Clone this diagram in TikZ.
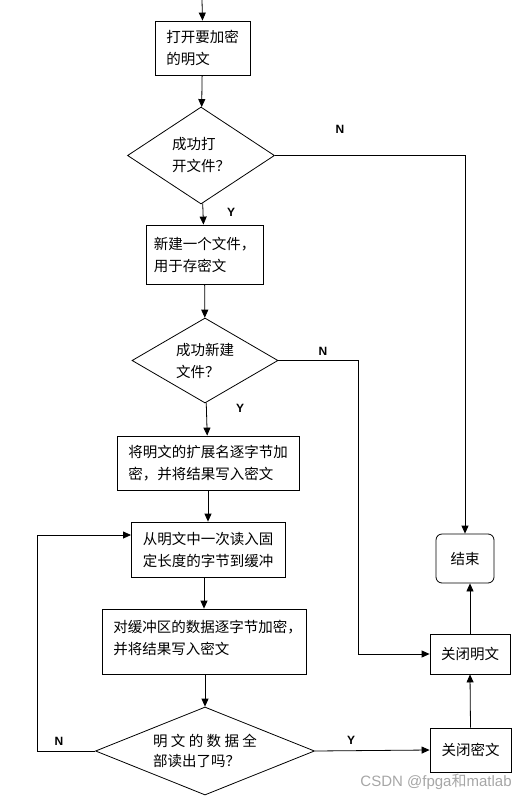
\documentclass[tikz,border=0pt]{standalone}
\usepackage{fontspec}
\setmainfont{Liberation Sans}
\newfontfamily\cjk{Noto Sans CJK SC}
\usetikzlibrary{arrows.meta,shapes.geometric}
\begin{document}
\begin{tikzpicture}[x=1pt,y=-1pt,
  line width=0.8pt,
  cjktext/.style={font=\cjk\fontsize{14.5}{22}\selectfont},
  box/.style={draw, rectangle, inner sep=0pt, align=left, cjktext},
  dia/.style={draw, diamond, inner sep=0pt, align=left, cjktext},
  arr/.style={-{Triangle[length=8pt,width=7pt]}},
  yn/.style={font=\bfseries\fontsize{12}{14}\selectfont}]
\useasboundingbox (0,0) rectangle (527,802);

\coordinate (top) at (202,0);
\node[box, minimum width=95, minimum height=54] (b1) at (202.5,48) {打开要加密\\的明文};
\node[dia, aspect=1.5, minimum width=147, minimum height=97] (d1) at (201,155.5) {成功打\\开文件？};
\node[box, minimum width=117, minimum height=59] (b2) at (204.5,254.5) {新建一个文件，\\用于存密文};
\node[dia, aspect=1.7, minimum width=146, minimum height=85] (d2) at (205,360.5) {成功新建\\文件？};
\node[box, minimum width=182, minimum height=54] (b3) at (208,463) {将明文的扩展名逐字节加\\密，并将结果写入密文};
\node[box, minimum width=154, minimum height=55] (b4) at (208,549.5) {从明文中一次读入固\\定长度的字节到缓冲};
\node[box, minimum width=204, minimum height=65] (b5) at (204,641.5) {};
\node[cjktext, anchor=west, align=left, inner sep=0pt] (b5t) at (113,638) {对缓冲区的数据逐字节加密，\\并将结果写入密文};
\node[dia, aspect=2.5, minimum width=219, minimum height=88, font=\cjk\fontsize{14.5}{20}\selectfont] (d3) at (205,751) {明\hspace{3.4pt}文\hspace{3.4pt}的\hspace{3.4pt}数\hspace{3.4pt}据\hspace{3.4pt}全\\部读出了吗？};
\node[box, rounded corners=6pt, minimum width=58, minimum height=49] (end) at (465,558.5) {结束};
\node[box, minimum width=80, minimum height=40] (cm) at (470,654) {关闭明文};
\node[box, minimum width=81, minimum height=44] (cc) at (470.5,750) {关闭密文};

\coordinate (k2) at (358,0);
\coordinate (k3) at (37,0);
\coordinate (b4in) at (131,535);

\draw[arr] (top) -- (b1.north);
\draw[arr] (b1) -- (d1);
\draw[arr] (d1) -- (b2);
\draw[arr] (b2) -- (d2);
\draw[arr] (d2) -- (b3);
\draw[arr] (b3) -- (b3 |- b4.north);
\draw[arr] (b4.south -| b5.north) -- (b5.north);
\draw[arr] (b5.south -| d3.north) -- (d3.north);
\draw[arr] (d1.east) -- (d1.east -| end.north) -- (end.north);
\draw[arr] (d2.east) -- (d2.east -| k2) -- (k2 |- cm.west) -- (cm.west);
\draw[arr] (d3.west) -- (d3.west -| k3) -- (k3 |- b4in) -- (b4in);
\draw[arr] (d3.east) -- (cc.west);
\draw[arr] (cc.north) -- (cm.south);
\draw[arr] (cm.north) -- (cm.north |- end.south);

\node[yn] (n1) at (340,129) {N};
\node[yn] (y1) at (231,212) {Y};
\node[yn] (n2) at (323,351) {N};
\node[yn] (y2) at (240,408) {Y};
\node[yn] (n3) at (59,741) {N};
\node[yn] (y3) at (351,740) {Y};

\node[anchor=east, text=gray!70, font=\fontsize{15}{17}\selectfont, inner sep=0pt] (wm) at (512,782) {CSDN @fpga{\cjk 和}matlab};
\end{tikzpicture}
\end{document}
